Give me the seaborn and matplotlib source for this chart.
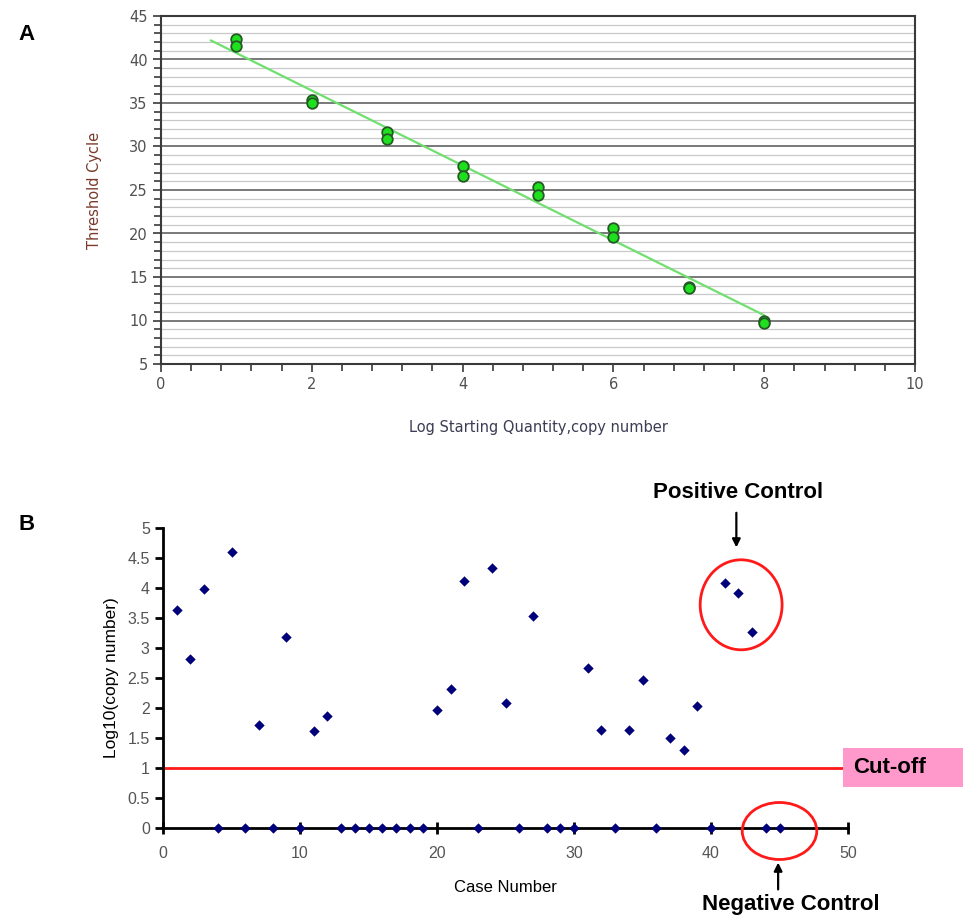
import matplotlib
matplotlib.use("Agg")
import matplotlib.pyplot as plt
import seaborn as sns
import numpy as np
import pandas as pd
from matplotlib.patches import Ellipse, Rectangle
from matplotlib.ticker import MultipleLocator

# panel A: standard curve
log_qty = [1, 1, 2, 2, 3, 3, 4, 4, 5, 5, 6, 6, 7, 7, 8, 8]
ct = [42.3, 41.6, 35.3, 35.0, 31.7, 30.9, 27.8, 26.6, 25.3, 24.4, 20.6, 19.6, 13.8, 13.7, 9.9, 9.7]
fit_x = [0.66, 8.0]
fit_y = [42.2, 10.6]

# panel B: cases
case_no = list(range(1, 46))
log_copy = [3.64, 2.82, 3.98, 0, 4.60, 0, 1.71, 0, 3.18, 0,
            1.62, 1.87, 0, 0, 0, 0, 0, 0, 0, 1.97,
            2.31, 4.12, 0, 4.33, 2.08, 0, 3.54, 0, 0, 0,
            2.66, 1.64, 0, 1.64, 2.47, 0, 1.50, 1.30, 2.03, 0,
            4.08, 3.92, 3.26, 0, 0]
cutoff = 1.0
pos_ctrl = (42.2, 3.72)
neg_ctrl = (45.0, -0.05)

df_a = pd.DataFrame({"x": log_qty, "y": ct})
df_fit = pd.DataFrame({"x": fit_x, "y": fit_y})
df_b = pd.DataFrame({"case": case_no, "val": log_copy})

sns.set_style("white")
plt.rcParams['font.family'] = ['Liberation Sans', 'DejaVu Sans']
plt.rcParams['text.color'] = 'black'
plt.rcParams['axes.labelcolor'] = 'black'

fig = plt.figure(figsize=(9.63, 9.17), dpi=100)

# ---------- A ----------
ax = fig.add_axes([161/963, 1-364/917, 754/963, 348/917])
ax.set_xlim(0, 10)
ax.set_ylim(5, 45)
ax.yaxis.set_major_locator(MultipleLocator(5))
ax.yaxis.set_minor_locator(MultipleLocator(1))
ax.xaxis.set_major_locator(MultipleLocator(2))
ax.xaxis.set_minor_locator(MultipleLocator(0.4))
ax.grid(which='minor', axis='y', color='#c8c8c8', lw=0.9)
ax.grid(which='major', axis='y', color='#6e6e6e', lw=1.3)
ax.set_axisbelow(True)
sns.lineplot(data=df_fit, x="x", y="y", ax=ax, color='#6fe06f', lw=1.6)
sns.scatterplot(data=df_a, x="x", y="y", ax=ax, s=58, color='#1fe01f',
                edgecolor='#245a24', linewidth=1.3, zorder=5)
for s in ax.spines.values():
    s.set_color('#3a3a3a')
    s.set_linewidth(1.5)
ax.tick_params(which='both', direction='out', color='#3a3a3a', width=1.2,
               left=True, bottom=True, labelsize=10.5, labelcolor='#505050')
ax.tick_params(which='major', length=6)
ax.tick_params(which='minor', length=5)
for lab in ax.get_xticklabels() + ax.get_yticklabels():
    lab.set_family('DejaVu Sans')
ax.set_xlabel("Log Starting Quantity,copy number", family='DejaVu Sans',
              fontsize=10.5, color='#3c3c55', labelpad=20)
ax.set_ylabel("Threshold Cycle", family='DejaVu Sans', fontsize=10.5,
              color='#7a3a2c', labelpad=19.5)
fig.text(18/963, 1-35/917, "A", fontsize=16, fontweight='bold', va='center')

# ---------- B ----------
bx = fig.add_axes([163/963, 1-828/917, 685/963, 300/917])
bx.set_xlim(0, 50)
bx.set_ylim(0, 5)
bx.axhline(cutoff, color='#ff1a1a', lw=2, zorder=2)
sns.scatterplot(data=df_b, x="case", y="val", ax=bx, marker='D', s=28,
                color='#00007a', edgecolor='#00007a', linewidth=0, zorder=5,
                clip_on=False)
sns.despine(ax=bx)
for s in ['left', 'bottom']:
    bx.spines[s].set_color('black')
    bx.spines[s].set_linewidth(2)
bx.xaxis.set_major_locator(MultipleLocator(10))
bx.set_yticks(np.arange(0, 5.01, 0.5))
bx.set_yticklabels(["0", "0.5", "1", "1.5", "2", "2.5", "3", "3.5", "4", "4.5", "5"])
bx.tick_params(axis='y', direction='out', length=6, width=2, color='black',
               left=True, labelsize=11.5, labelcolor='#555555')
bx.tick_params(axis='x', direction='inout', length=8, width=2, color='black',
               bottom=True, labelsize=11.5, labelcolor='#555555', pad=9)
bx.set_xlabel("Case Number", fontsize=12, labelpad=14)
bx.set_ylabel("Log10(copy number)", fontsize=12.5, labelpad=6)

bx.add_patch(Ellipse(pos_ctrl, 5.98, 1.5, fill=False, edgecolor='#ff1a1a',
                     lw=2, clip_on=False, zorder=6))
bx.add_patch(Ellipse(neg_ctrl, 5.44, 0.95, fill=False, edgecolor='#ff1a1a',
                     lw=2, clip_on=False, zorder=6))
arrow = dict(arrowstyle='-|>', color='black', lw=1.6, mutation_scale=12)
bx.annotate('', xy=(41.85, 4.63), xytext=(41.85, 5.3), arrowprops=arrow,
            annotation_clip=False)
bx.annotate('', xy=(44.9, -0.53), xytext=(44.9, -1.07), arrowprops=arrow,
            annotation_clip=False)
bx.text(42.0, 5.6, "Positive Control", fontsize=16, fontweight='bold',
        ha='center', va='center', clip_on=False)
bx.text(45.8, -1.27, "Negative Control", fontsize=16, fontweight='bold',
        ha='center', va='center', clip_on=False)

fig.patches.append(Rectangle((843/963, 1-787/917), 120/963, 39/917,
                             transform=fig.transFigure, facecolor='#ff99cc',
                             edgecolor='none', zorder=10))
fig.text(853/963, 1-767.5/917, "Cut-off", fontsize=16, fontweight='bold',
         va='center', zorder=11)
fig.text(18/963, 1-525/917, "B", fontsize=16, fontweight='bold', va='center')

fig.savefig("out.png", dpi=100)
